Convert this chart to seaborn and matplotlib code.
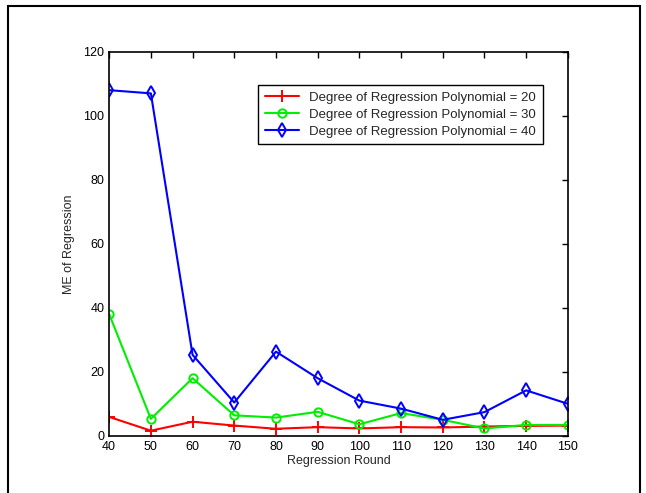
import numpy as np
import pandas as pd
import seaborn as sns
import matplotlib.pyplot as plt
from matplotlib.patches import Rectangle

rounds = [40, 50, 60, 70, 80, 90, 100, 110, 120, 130, 140, 150]
me_deg20 = [5.9, 1.6, 4.4, 3.2, 2.2, 2.7, 2.3, 2.7, 2.6, 2.9, 3.1, 3.2]
me_deg30 = [38.0, 5.3, 18.0, 6.4, 5.7, 7.5, 3.6, 7.1, 5.0, 2.3, 3.4, 3.4]
me_deg40 = [108.0, 107.0, 25.3, 10.4, 26.3, 18.0, 11.0, 8.5, 5.0, 7.4, 14.2, 10.0]

labels = ['Degree of Regression Polynomial = 20',
          'Degree of Regression Polynomial = 30',
          'Degree of Regression Polynomial = 40']

sns.set_style('white')
plt.rcParams['font.family'] = ['Liberation Sans', 'DejaVu Sans']
plt.rcParams['font.size'] = 9

fig = plt.figure(figsize=(6.46, 4.93), dpi=100)
ax = fig.add_axes([0.169, 0.116, 0.710, 0.779])

# outer frame of the figure (bottom edge cut off)
fig.patches.append(Rectangle((0.013, -0.05), 0.978, 1.038, transform=fig.transFigure,
                             fill=False, edgecolor='black', linewidth=1.5))

series = [(me_deg20, 'red', '+', 8, labels[0]),
          (me_deg30, '#00ee00', 'o', 6, labels[1]),
          (me_deg40, 'blue', 'd', 7, labels[2])]

for vals, col, mk, ms, lab in series:
    sns.lineplot(x=rounds, y=vals, color=col, marker=mk, markersize=ms,
                 markerfacecolor='none', markeredgecolor=col, markeredgewidth=1.4,
                 linewidth=1.5, label=lab, ax=ax)

ax.set_xlim(40, 150)
ax.set_ylim(0, 120)
ax.set_xticks(rounds)
ax.set_yticks(np.arange(0, 121, 20))
ax.set_xlabel('Regression Round', labelpad=2)
ax.set_ylabel('ME of Regression', labelpad=6)
ax.tick_params(direction='in', top=True, right=True, length=4, width=1, colors='black')
for s in ax.spines.values():
    s.set_visible(True)
    s.set_color('black')
    s.set_linewidth(1.2)

leg = ax.legend(loc='upper left', bbox_to_anchor=(0.31, 0.93), fancybox=False,
                framealpha=1, edgecolor='black', borderpad=0.5, handlelength=2.6,
                labelspacing=0.35, fontsize=9.5)
leg.get_frame().set_linewidth(1)

fig.savefig('out.png', dpi=100)
